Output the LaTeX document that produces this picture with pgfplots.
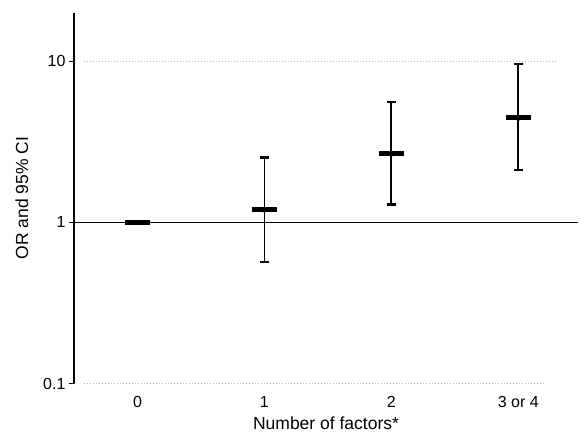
\documentclass[border=0pt]{standalone}
\usepackage{fontspec}
\setmainfont{Liberation Sans}
\usepackage{pgfplots}
\pgfplotsset{compat=1.18}

\begin{document}
\begin{tikzpicture}
\begin{axis}[
  scale only axis, width=504pt, height=371pt,
  ymode=log, ymin=0.1, ymax=20,
  xmin=-0.5, xmax=3.47,
  axis y line*=left, axis x line*=bottom,
  x axis line style={draw=none},
  y axis line style={line width=1.2pt},
  xtick={0,1,2,3}, xticklabels={0,1,2,3 or 4},
  xtick style={draw=none},
  ytick={0.1,1,10}, yticklabels={0.1,1,10},
  yminorticks=false,
  ytick style={line width=1.2pt, black},
  tick align=outside, major tick length=5pt,
  /pgf/number format/assume math mode=true,
  tick label style={font=\fontsize{16}{16}\selectfont},
  xticklabel style={yshift=-4pt},
  label style={font=\fontsize{17.5}{18}\selectfont},
  xlabel={Number of factors*},
  xlabel style={yshift=-2pt},
  ylabel={OR and 95\% CI},
  ylabel style={yshift=8pt},
  clip=false,
]
% dotted reference lines at 10 and 0.1
\addplot[gray!60, dotted, line width=1pt] coordinates {(-0.42,10) (3.3,10)};
\addplot[gray!60, dotted, line width=1pt] coordinates {(-0.42,0.1) (3.2,0.1)};
% solid line at OR = 1
\addplot[black, line width=1.1pt] coordinates {(-0.5,1) (3.47,1)};
% 95% CI
\addplot[black, line width=1.8pt, only marks, mark=none,
  error bars/.cd, y dir=both, y explicit,
  error mark=|, error mark options={line width=2.5pt, mark size=4.5pt, black},
  error bar style={line width=1.8pt, black}]
  coordinates {
  (1,1.20) += (0,1.32) -= (0,0.63)
  (2,2.67) += (0,2.91) -= (0,1.38)
  (3,4.45) += (0,5.13) -= (0,2.33)
  };
% OR estimates
\addplot[black, only marks, mark=-, mark size=12.5pt, mark options={line width=5pt}]
  coordinates {(0,1) (1,1.20) (2,2.67) (3,4.45)};
\end{axis}
\pgfresetboundingbox
\path[use as bounding box] ([shift={(-74pt,-48pt)}]current axis.south west)
  rectangle ([shift={(1pt,12.7pt)}]current axis.north east);
\end{tikzpicture}
\end{document}
